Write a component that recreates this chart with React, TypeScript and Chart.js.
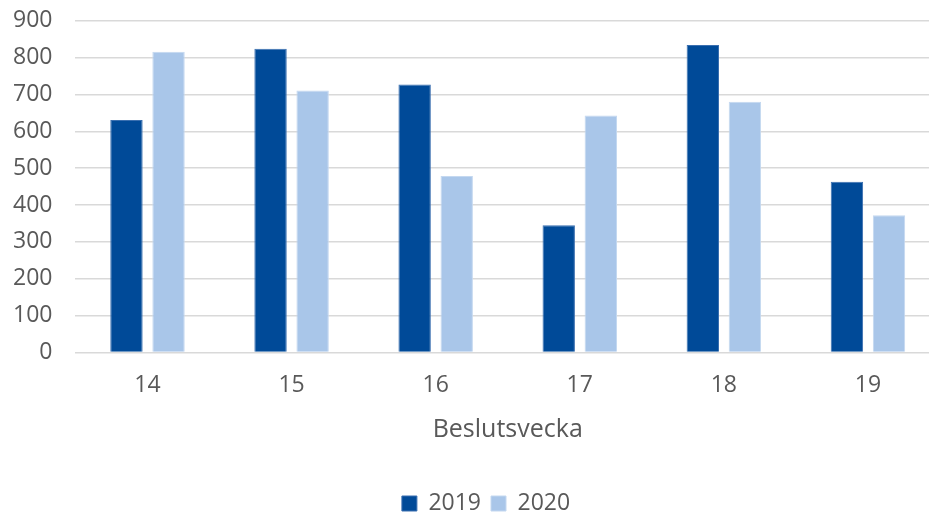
import React, { useEffect, useRef } from "react";
import { Chart, registerables } from "chart.js";

Chart.register(...registerables);

const categories = ["14", "15", "16", "17", "18", "19"];
const values2019 = [631, 824, 727, 345, 834, 463];
const values2020 = [816, 711, 479, 643, 680, 372];
const yTicksMax = 900;
const yStep = 100;

const shiftLegend = {
  id: "shiftLegend",
  afterLayout(chart: any) {
    if (chart.legend) {
      chart.legend.left += 21;
      chart.legend.right += 21;
    }
  },
};

export default function App() {
  const ref = useRef<HTMLCanvasElement | null>(null);
  useEffect(() => {
    if (!ref.current) return;
    const font = "Open Sans";
    const chart = new Chart(ref.current, {
      type: "bar",
      data: {
        labels: categories,
        datasets: [
          {
            label: "2019",
            data: values2019,
            backgroundColor: "#004a98",
            borderColor: "#3a6fb0",
            borderWidth: 1,
            categoryPercentage: 0.584,
            barPercentage: 0.77,
          },
          {
            label: "2020",
            data: values2020,
            backgroundColor: "#a9c6e9",
            borderColor: "#c4d8f0",
            borderWidth: 1,
            categoryPercentage: 0.584,
            barPercentage: 0.77,
          },
        ],
      },
      plugins: [shiftLegend],
      options: {
        animation: false,
        responsive: false,
        maintainAspectRatio: false,
        layout: { padding: { left: -10, right: 0, top: -8, bottom: -10 } },
        plugins: {
          tooltip: { enabled: false },
          legend: {
            position: "bottom",
            labels: {
              color: "#595959",
              font: { family: font, size: 23 },
              boxWidth: 15,
              boxHeight: 15,
              padding: 10,
            },
          },
        },
        scales: {
          x: {
            grid: { display: false },
            border: { display: false },
            ticks: { color: "#595959", font: { family: font, size: 23 }, padding: 11 },
            title: {
              display: true,
              text: "Beslutsvecka",
              color: "#595959",
              font: { family: font, size: 25 },
              padding: { top: 5, bottom: 37 },
            },
          },
          y: {
            min: 0,
            max: yTicksMax,
            grid: { color: "#d9d9d9", lineWidth: 1.5, drawTicks: false },
            border: { display: false },
            ticks: {
              stepSize: yStep,
              color: "#595959",
              font: { family: font, size: 23 },
              padding: 23,
            },
          },
        },
      },
    });
    return () => chart.destroy();
  }, []);
  return (
    <div style={{ position: "fixed", left: 0, top: -16, width: 940, height: 531, background: "#fff" }}>
      <canvas ref={ref} width={940} height={531} style={{ width: 940, height: 531 }} />
    </div>
  );
}
